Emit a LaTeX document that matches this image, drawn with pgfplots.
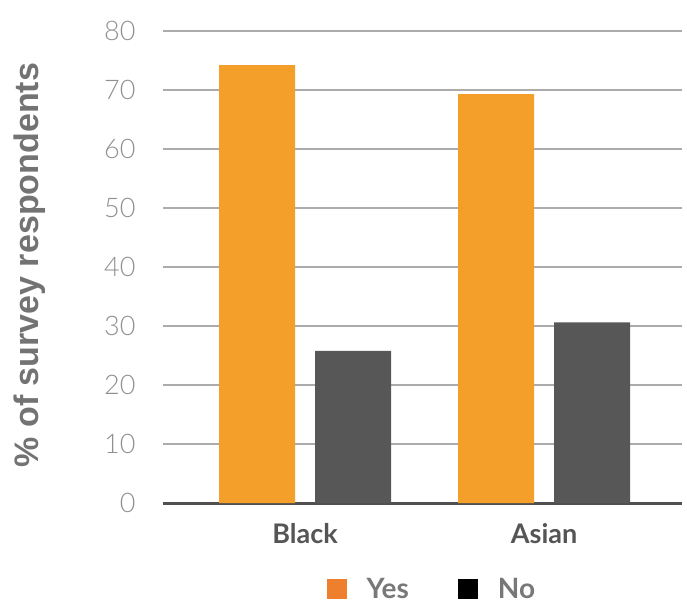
\documentclass[border=0pt]{standalone}
\usepackage{pgfplots}
\pgfplotsset{compat=1.18}
\usepackage{fontspec}
\setmainfont{Lato}
\newfontfamily\latolight{Lato Light}
\newfontfamily\arialbold{Liberation Sans}[UprightFont=*-Bold]

\definecolor{barorange}{RGB}{243,159,42}
\definecolor{bargray}{RGB}{87,87,87}
\definecolor{legorange}{RGB}{238,128,45}
\definecolor{gridgray}{RGB}{172,172,172}
\definecolor{basegray}{RGB}{80,80,80}
\definecolor{ticktext}{RGB}{145,145,145}
\definecolor{labeltext}{RGB}{115,115,115}
\definecolor{cattext}{RGB}{85,85,85}
\definecolor{legtext}{RGB}{120,120,120}

\begin{document}
\begin{tikzpicture}
\useasboundingbox (0,0) rectangle (687pt,605pt);
\begin{axis}[
  at={(163pt,102pt)}, anchor=south west,
  scale only axis,
  width=519pt, height=472pt,
  xmin=-0.594, xmax=1.577,
  ymin=0, ymax=80,
  ytick={0,10,...,80},
  xtick={0,1},
  xticklabels={Black,Asian},
  major tick length=0pt,
  axis lines=left,
  axis line style={-},
  y axis line style={draw=none},
  x axis line style={line width=3pt, color=basegray},
  ymajorgrids,
  grid style={line width=1.6pt, color=gridgray},
  /pgf/number format/assume math mode=true,
  yticklabel style={font=\latolight\fontsize{27}{32}\selectfont, text=ticktext, xshift=-24pt},
  xticklabel style={font=\bfseries\fontsize{27}{32}\selectfont, text=cattext, yshift=-17pt},
  ylabel={\% of survey respondents},
  ylabel style={at={(axis description cs:-0.256,0.504)}, anchor=center, rotate=0,
    font=\arialbold\fontsize{34}{40}\selectfont, text=labeltext},
  ybar,
  bar width=76pt,
  legend style={draw=none, fill=none, at={(axis description cs:0.518,-0.183)}, anchor=center,
    font=\bfseries\fontsize{28}{33}\selectfont, text=legtext,
    nodes={inner ysep=0pt},
    /tikz/every odd column/.append style={column sep=18pt},
    /tikz/every even column/.append style={column sep=47pt}},
  legend columns=2,
  legend image code/.code={\fill[#1] (0pt,-10pt) rectangle (20pt,10pt);},
]
\addplot[fill=barorange, draw=none, bar shift=-48pt, forget plot] coordinates {(0,74.2) (1,69.3)};
\addplot[fill=bargray, draw=none, bar shift=48pt, forget plot] coordinates {(0,25.8) (1,30.6)};
\addlegendimage{fill=legorange, draw=none}
\addlegendentry{Yes}
\addlegendimage{fill=black, draw=none}
\addlegendentry{No}
\end{axis}
\end{tikzpicture}
\end{document}
